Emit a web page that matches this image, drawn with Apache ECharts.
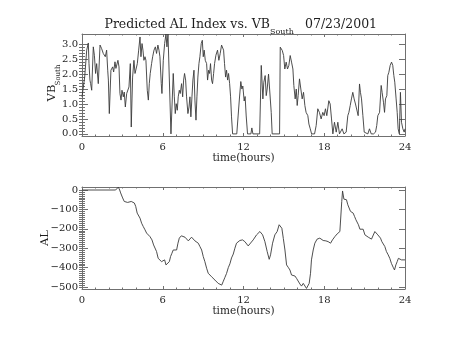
<!DOCTYPE html>
<html>
<head>
<meta charset="utf-8">
<script src="https://cdn.jsdelivr.net/npm/echarts@6/dist/echarts.min.js"></script>
<style>
html,body{margin:0;padding:0;background:#fff;}
#chart{width:454px;height:341px;}
</style>
</head>
<body>
<div id="chart"></div>
<script>
// ---- data ----
var vbTimes = [0.0,0.05,0.2,0.35,0.47,0.52,0.59,0.64,0.72,0.84,0.92,1.01,1.09,1.21,1.34,1.46,1.58,1.66,1.73,1.83,1.91,1.96,2.03,2.15,2.28,2.35,2.45,2.52,2.57,2.67,2.75,2.82,2.9,2.97,3.07,3.14,3.22,3.32,3.42,3.49,3.59,3.66,3.76,3.86,3.94,4.01,4.11,4.21,4.31,4.38,4.46,4.53,4.6,4.68,4.75,4.85,4.93,5.0,5.07,5.17,5.25,5.35,5.45,5.54,5.64,5.72,5.79,5.89,5.94,6.04,6.14,6.24,6.31,6.39,6.61,6.78,6.86,6.93,7.0,7.08,7.15,7.23,7.3,7.4,7.48,7.55,7.62,7.7,7.77,7.87,7.95,8.02,8.09,8.17,8.24,8.32,8.39,8.47,8.54,8.61,8.69,8.76,8.86,8.94,9.01,9.08,9.16,9.26,9.33,9.41,9.48,9.55,9.63,9.7,9.78,9.85,9.95,10.07,10.17,10.27,10.37,10.45,10.52,10.59,10.67,10.74,10.82,10.89,10.97,11.04,11.11,11.19,11.5,11.6,11.7,11.8,11.88,11.95,12.05,12.12,12.2,12.3,12.55,12.62,12.7,13.2,13.32,13.44,13.51,13.61,13.69,13.76,13.86,13.94,14.06,14.13,14.68,14.73,14.88,14.98,15.07,15.17,15.27,15.37,15.47,15.57,15.67,15.74,15.84,15.92,15.99,16.06,16.16,16.26,16.36,16.46,16.56,16.65,16.78,16.86,16.96,17.06,17.28,17.4,17.52,17.64,17.77,17.89,17.99,18.09,18.19,18.34,18.44,18.54,18.64,18.76,18.89,19.01,19.13,19.33,19.46,19.63,19.75,19.83,19.93,20.02,20.12,20.22,20.32,20.42,20.52,20.62,20.69,20.77,20.87,20.97,21.06,21.24,21.36,21.49,21.66,21.81,21.9,21.98,22.11,22.23,22.3,22.4,22.48,22.55,22.65,22.72,22.8,22.9,23.0,23.09,23.17,23.24,23.34,23.42,23.49,23.58,23.66,23.74,23.84,23.94,24.0];
var vbValues = [1.24,1.24,1.9,2.8,3.04,2.35,1.8,1.68,1.46,2.91,2.63,2.02,2.35,1.68,2.97,2.85,2.69,2.74,2.58,2.8,2.13,1.8,0.68,2.13,2.24,2.07,2.41,2.19,2.13,2.46,2.24,1.35,1.13,1.46,1.24,1.4,0.9,1.35,1.29,1.57,2.35,0.23,1.9,2.46,2.02,1.96,2.35,2.8,3.24,2.58,3.02,2.8,2.46,2.58,2.46,1.46,1.13,1.68,2.02,2.35,2.58,2.8,2.91,2.69,2.97,2.8,2.58,1.68,1.35,2.46,3.02,3.34,2.91,3.34,0.0,2.02,1.24,0.68,1.01,0.79,1.24,1.46,1.35,1.68,1.24,1.8,2.02,1.8,1.24,0.68,0.9,1.24,0.57,1.24,1.8,2.13,1.13,0.46,1.24,1.9,2.35,2.58,3.02,3.13,2.58,2.8,2.46,2.35,1.8,2.13,2.02,2.35,1.8,1.68,2.02,2.35,2.63,2.8,2.46,2.69,2.97,3.02,2.8,2.35,1.9,2.13,1.8,2.02,1.68,1.24,0.57,0.0,0.0,0.6,1.2,1.75,1.5,1.6,1.1,1.25,0.6,0.0,0.0,0.2,0.0,0.0,2.29,1.17,1.73,1.95,1.28,1.5,2.0,1.5,0.72,0.0,0.0,2.9,2.79,2.62,2.17,2.4,2.17,2.29,2.62,2.4,2.17,1.62,1.17,1.5,0.95,1.28,1.84,1.5,1.17,1.39,0.95,0.72,0.61,0.33,0.17,0.0,0.0,0.28,0.84,0.72,0.5,0.72,0.61,0.84,0.61,1.11,1.0,0.5,0.0,0.39,0.06,0.39,0.0,0.17,0.0,0.06,0.61,0.72,0.95,1.17,1.39,1.17,1.0,1.06,0.61,1.67,1.39,1.17,0.61,0.06,0.0,0.0,0.17,0.0,0.0,0.06,0.28,0.61,0.72,1.62,1.39,1.06,0.72,1.17,1.28,1.95,2.06,2.29,2.4,2.29,1.95,1.73,1.17,0.72,0.17,0.0,1.39,0.39,0.17,0.06,0.17];

var alTimes = [0,2.5,2.6,2.7,2.8,2.87,3.02,3.14,3.27,3.39,3.51,3.66,3.76,3.89,3.99,4.1,4.2,4.31,4.43,4.55,4.68,4.8,4.93,5.05,5.2,5.32,5.45,5.54,5.66,5.79,5.91,6.04,6.14,6.24,6.36,6.49,6.58,6.68,6.78,6.9,7.03,7.13,7.23,7.38,7.52,7.65,7.77,7.9,8.02,8.14,8.27,8.39,8.52,8.64,8.76,8.89,9.01,9.13,9.26,9.38,9.5,9.63,9.75,9.88,10.0,10.12,10.25,10.38,10.5,10.62,10.74,10.87,10.99,11.11,11.24,11.36,11.48,11.56,11.73,11.93,12.1,12.35,12.47,12.72,12.97,13.22,13.42,13.59,13.76,13.91,14.01,14.16,14.33,14.5,14.65,14.75,14.85,14.96,15.08,15.2,15.32,15.45,15.57,15.69,15.82,15.94,16.06,16.19,16.31,16.44,16.56,16.68,16.81,16.88,16.98,17.05,17.18,17.3,17.47,17.67,17.92,18.12,18.29,18.47,18.61,18.79,18.96,19.16,19.26,19.3,19.36,19.46,19.55,19.65,19.75,19.85,19.95,20.05,20.15,20.25,20.35,20.44,20.54,20.65,20.77,20.89,21.02,21.14,21.27,21.39,21.51,21.64,21.76,21.88,21.98,22.08,22.18,22.28,22.38,22.5,22.62,22.75,22.87,22.99,23.12,23.22,23.32,23.42,23.51,23.62,23.74,23.86,24.0];
var alValues = [0,0,5,15,0,-15,-41,-59,-67,-64,-55,-59,-53,-67,-84,-119,-128,-145,-171,-188,-205,-222,-231,-240,-257,-283,-291,-317,-352,-360,-369,-378,-360,-386,-395,-369,-343,-326,-309,-317,-309,-274,-248,-236,-240,-243,-253,-262,-253,-243,-248,-262,-266,-274,-291,-309,-343,-369,-403,-429,-438,-447,-455,-464,-472,-481,-484,-490,-470,-450,-430,-400,-380,-350,-330,-300,-274,-266,-260,-257,-266,-288,-278,-257,-231,-214,-231,-266,-317,-357,-334,-274,-231,-214,-179,-171,-197,-250,-309,-386,-398,-412,-438,-447,-443,-455,-464,-484,-495,-481,-490,-507,-508,-481,-429,-360,-309,-274,-253,-248,-260,-262,-266,-274,-257,-240,-226,-214,-214,-60,-5,-47,-41,-50,-76,-84,-110,-119,-119,-136,-153,-162,-179,-202,-205,-202,-231,-240,-243,-243,-253,-243,-214,-222,-231,-222,-248,-266,-274,-291,-317,-334,-352,-378,-398,-412,-386,-369,-352,-357,-360,-357,-360];

var timeTicks = [0, 6, 12, 18, 24];
var vbTicks = [0, 0.5, 1.0, 1.5, 2.0, 2.5, 3.0];
var alTicks = [-500, -400, -300, -200, -100, 0];

var titleMain = 'Predicted AL Index vs. VB';
var titleSub = 'South';
var titleDate = '07/23/2001';
var xName = 'time(hours)';
var vbName = 'VB';
var vbSub = 'South';
var alName = 'AL';

// ---- chart ----
var FONT = '"DejaVu Serif"';
var TXT = '#1e1e1e';
var AX = '#707070';

function pairs(xs, ys){ var out=[]; for (var i=0;i<xs.length;i++) out.push([xs[i], ys[i]]); return out; }
function minorList(lo, hi, step){ var out=[]; var n=Math.round((hi-lo)/step); for (var i=0;i<=n;i++) out.push(+(lo+i*step).toFixed(4)); return out; }

function xAxes(gi){
  var base = {
    gridIndex: gi, type:'value', min:0, max:24, interval:6,
    axisLine:{show:true, onZero:false, lineStyle:{color:AX, width:1}},
    axisTick:{show:true, inside:true, length:3, lineStyle:{color:AX}},
    minorTick:{show:true, splitNumber:6, length:1.5, lineStyle:{color:AX}},
    splitLine:{show:false}
  };
  var bottom = Object.assign({}, base, {
    position:'bottom',
    axisLabel:{show:true, margin:6, color:TXT, fontFamily:FONT, fontSize:10},
    name:xName, nameLocation:'middle', nameGap:17,
    nameTextStyle:{color:TXT, fontFamily:FONT, fontSize:10.5}
  });
  var top = Object.assign({}, base, {position:'top', axisLabel:{show:false}});
  return [bottom, top];
}

function yAxes(gi, mn, mx, ticks, minorStep, fmt){
  var minors = minorList(ticks[0], ticks[ticks.length-1], minorStep);
  var res = [];
  ['left','right'].forEach(function(pos){
    res.push({
      gridIndex:gi, type:'value', min:mn, max:mx, position:pos,
      axisLine:{show:true, onZero:false, lineStyle:{color:AX, width:1}},
      axisTick:{show:true, inside:true, length:6, customValues:ticks, lineStyle:{color:AX}},
      axisLabel:{show:pos==='left', customValues:ticks, margin:4, color:TXT, fontFamily:FONT, fontSize:10, formatter:fmt},
      splitLine:{show:false}
    });
    res.push({
      gridIndex:gi, type:'value', min:mn, max:mx, position:pos,
      axisLine:{show:false},
      axisTick:{show:true, inside:true, length:3, customValues:minors, lineStyle:{color:AX}},
      axisLabel:{show:false},
      splitLine:{show:false}
    });
  });
  return res;
}

var vbFmt = function(v){ return v.toFixed(1); };
var alFmt = function(v){ return String(v).replace('-', '\u2212'); };

var chart = echarts.init(document.getElementById('chart'), null, {renderer:'canvas'});
var option = {
  animation:false,
  backgroundColor:'#ffffff',
  grid:[
    {left:82, top:34, width:323, height:102},
    {left:82, top:187, width:323, height:102}
  ],
  xAxis: xAxes(0).concat(xAxes(1)),
  yAxis: yAxes(0, -0.07, 3.34, vbTicks, 0.1, vbFmt).concat(yAxes(1, -510, 15.5, alTicks, 10, alFmt)),
  series:[
    {type:'line', xAxisIndex:0, yAxisIndex:0, data:pairs(vbTimes, vbValues), showSymbol:false, symbol:'none',
     lineStyle:{color:'#3a3a3a', width:0.9}, clip:true},
    {type:'line', xAxisIndex:2, yAxisIndex:4, data:pairs(alTimes, alValues), showSymbol:false, symbol:'none',
     lineStyle:{color:'#3a3a3a', width:0.9}, clip:true}
  ],
  graphic:[
    {type:'text', x:270, y:25, style:{text:titleMain, font:'12.5px '+FONT, fill:TXT, textAlign:'right', textVerticalAlign:'middle'}},
    {type:'text', x:270, y:32, style:{text:titleSub, font:'8px '+FONT, fill:TXT, textAlign:'left', textVerticalAlign:'middle'}},
    {type:'text', x:305, y:25, style:{text:titleDate, font:'12.5px '+FONT, fill:TXT, textAlign:'left', textVerticalAlign:'middle'}},
    {type:'text', x:52, y:93, rotation:Math.PI/2, style:{text:vbName, font:'11.5px '+FONT, fill:TXT, textAlign:'center', textVerticalAlign:'middle'}},
    {type:'text', x:58, y:75, rotation:Math.PI/2, style:{text:vbSub, font:'7px '+FONT, fill:TXT, textAlign:'center', textVerticalAlign:'middle'}},
    {type:'text', x:45, y:238, rotation:Math.PI/2, style:{text:alName, font:'11.5px '+FONT, fill:TXT, textAlign:'center', textVerticalAlign:'middle'}}
  ]
};
chart.setOption(option);
</script>
</body>
</html>
